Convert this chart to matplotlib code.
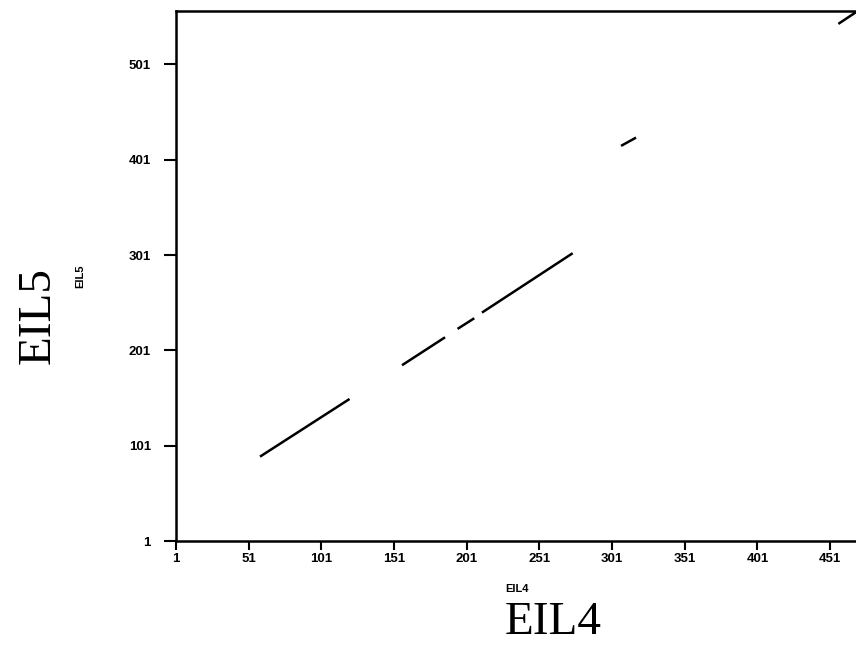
import matplotlib
matplotlib.use("Agg")
import matplotlib.pyplot as plt

# dot plot of EIL4 vs EIL5, matching segments (start, end)
seg_x0 = [58.8, 156.5, 194.7, 211.5, 307.2, 456.7]
seg_x1 = [120.4, 186.1, 206.2, 273.9, 317.5, 470.0]
seg_y0 = [89.5, 185.4, 223.5, 240.6, 415.5, 543.5]
seg_y1 = [150.0, 214.7, 234.7, 302.9, 424.2, 557.0]

xticks = [1, 51, 101, 151, 201, 251, 301, 351, 401, 451]
yticks = [1, 101, 201, 301, 401, 501]

fig = plt.figure(figsize=(8.56, 6.46), dpi=100)
ax = fig.add_axes([176 / 856, 105 / 646, 681.7 / 856, 530 / 646])

for x0, x1, y0, y1 in zip(seg_x0, seg_x1, seg_y0, seg_y1):
    ax.plot([x0, x1], [y0, y1], color="black", lw=1.8, solid_capstyle="butt")

ax.set_xlim(1, 470)
ax.set_ylim(1, 557)
ax.set_xticks(xticks)
ax.set_yticks(yticks)

tick_font = dict(family="Liberation Sans", weight="bold", size=9.5)
ax.set_xticklabels([str(t) for t in xticks], **tick_font)
ax.set_yticklabels([str(t) for t in yticks], **tick_font)
ax.tick_params(axis="x", direction="out", length=6.5, width=1.5, pad=2)
ax.tick_params(axis="y", direction="out", length=9, width=1.5, pad=9)

ax.spines["right"].set_visible(False)
for s in ["left", "top", "bottom"]:
    ax.spines[s].set_linewidth(1.8)

# small axis labels
ax.text(0.5, -0.09, "EIL4", transform=ax.transAxes, ha="center", va="center",
        family="Liberation Sans", weight="bold", size=8)
ax.text(-0.141, 0.5, "EIL5", transform=ax.transAxes, ha="center", va="center",
        rotation=90, family="Liberation Sans", weight="bold", size=8)

# big labels
fig.text(553 / 856, 1 - 623 / 646, "EIL4", ha="center", va="center",
         family="Liberation Serif", size=34)
fig.text(38 / 856, 1 - 316 / 646, "EIL5", ha="center", va="center", rotation=90,
         family="Liberation Serif", size=34)

fig.savefig("out.png", dpi=100)
